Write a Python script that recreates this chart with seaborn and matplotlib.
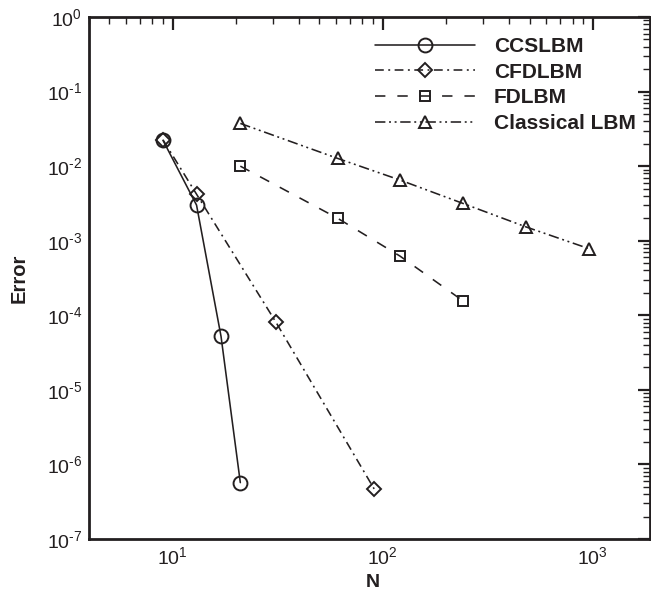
import numpy as np
import pandas as pd
import matplotlib
matplotlib.use("Agg")
import matplotlib.pyplot as plt
import seaborn as sns
from matplotlib.ticker import LogLocator, NullFormatter, FuncFormatter, FixedLocator

# ---- data ----
ccs_n = [9, 13, 17, 21]
ccs_err = [0.0222, 0.0030, 5.2e-5, 5.7e-7]
cfd_n = [9, 13, 31, 91]
cfd_err = [0.0225, 0.0042, 8.1e-5, 4.7e-7]
fd_n = [21, 61, 121, 241]
fd_err = [0.0100, 0.0020, 6.2e-4, 1.56e-4]
cls_n = [21, 61, 121, 241, 481, 961]
cls_err = [0.0374, 0.0127, 0.0065, 0.00316, 0.00153, 7.8e-4]
labels = ["CCSLBM", "CFDLBM", "FDLBM", "Classical LBM"]

sns.set_theme(style="white")
plt.rcParams["font.family"] = ["Liberation Sans", "DejaVu Sans"]
plt.rcParams["mathtext.fontset"] = "custom"
plt.rcParams["mathtext.rm"] = "Liberation Sans"
plt.rcParams["mathtext.it"] = "Liberation Sans:italic"
plt.rcParams["mathtext.bf"] = "Liberation Sans:bold"
plt.rcParams["axes.unicode_minus"] = False

INK = "#231f20"
W, H = 651, 591
fig = plt.figure(figsize=(W / 100, H / 100), dpi=100)
ax = fig.add_axes([89 / W, 1 - 539 / H, (650 - 89) / W, (539 - 17) / H])

lw = 1.15
series = [
    (ccs_n, ccs_err, "o", 10, "-"),
    (cfd_n, cfd_err, "D", 7.5, (0, (5.5, 2.8, 1.2, 2.8))),
    (fd_n, fd_err, "s", 7, (0, (6.5, 7.5))),
    (cls_n, cls_err, "^", 8.5, (0, (6.5, 2.3, 1.2, 2.3, 1.2, 2.3))),
]
for (n, e, m, ms, ls), lab in zip(series, labels):
    df = pd.DataFrame({"N": n, "Error": e})
    sns.lineplot(data=df, x="N", y="Error", ax=ax, color=INK, linewidth=lw,
                 linestyle=ls, marker=m, markersize=ms,
                 markerfacecolor="none", markeredgecolor=INK,
                 markeredgewidth=1.4, label=lab, errorbar=None)

XLIM = (4, 1870)
YLIM = (1e-7, 1)
ax.set_xscale("log")
ax.set_yscale("log")
ax.set_xlim(*XLIM)
ax.set_ylim(*YLIM)


def make_fmt(use_text):
    def f(v, pos):
        k = int(round(np.log10(v)))
        s = str(k)
        if use_text:
            s = s.replace("-", r"\text{-}")
        return r"$\mathdefault{10^{%s}}$" % s
    return FuncFormatter(f)


def ticks_in(lim, subs):
    lo, hi = lim
    out = []
    for k in range(int(np.floor(np.log10(lo))) - 1, int(np.ceil(np.log10(hi))) + 1):
        for s in subs:
            v = s * 10.0 ** k
            if lo * 0.999 <= v <= hi * 1.001:
                out.append(v)
    return out


for axis, lim in ((ax.xaxis, XLIM), (ax.yaxis, YLIM)):
    axis.set_major_locator(FixedLocator(ticks_in(lim, [1])))
    axis.set_minor_locator(FixedLocator(ticks_in(lim, range(2, 10))))
    axis.set_major_formatter(make_fmt(True))
    axis.set_minor_formatter(NullFormatter())

ax.tick_params(which="both", direction="in", top=True, right=True,
               colors=INK, labelsize=14)
ax.tick_params(which="major", length=9, width=1.6, pad=5)
ax.tick_params(which="minor", length=5, width=1.0,
               labelbottom=False, labelleft=False, labeltop=False, labelright=False)
for s in ax.spines.values():
    s.set_color(INK)
    s.set_linewidth(2.0)

ax.set_xlabel("N", fontsize=14, fontweight="bold", color=INK, va="baseline")
ax.set_ylabel("Error", fontsize=14.5, fontweight="bold", color=INK)
ax.xaxis.set_label_coords(0.506, -0.0915)
ax.yaxis.set_label_coords(-0.108, 0.5)

handles, labs = ax.get_legend_handles_labels()
leg = ax.legend(handles, labs, loc="upper left",
                bbox_to_anchor=(375 / W, 1 - 37 / H), bbox_transform=fig.transFigure,
                frameon=False, handlelength=4.8, handletextpad=0.9,
                labelspacing=0.32, borderpad=0, borderaxespad=0, numpoints=1,
                prop={"weight": "bold", "size": 15})
for t in leg.get_texts():
    t.set_color(INK)

try:
    fig.canvas.draw()
except Exception:
    for axis in (ax.xaxis, ax.yaxis):
        axis.set_major_formatter(make_fmt(False))

fig.savefig("out.png", dpi=100)
